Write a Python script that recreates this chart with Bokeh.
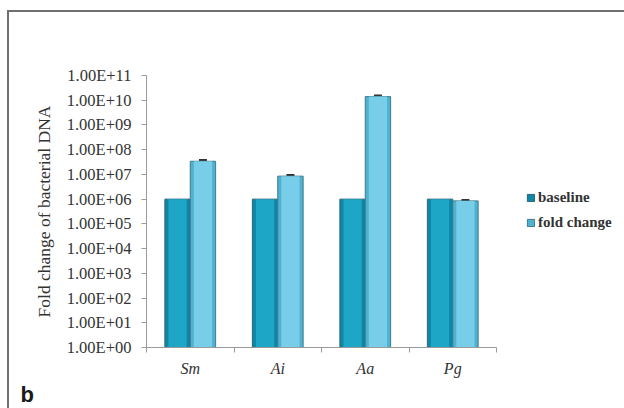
from bokeh.plotting import figure
from bokeh.models import (ColumnDataSource, FixedTicker, CustomJSTickFormatter, Legend,
                          LegendItem, Whisker, TeeHead, Title)
from bokeh.embed import file_html
from bokeh.resources import INLINE

# Bacterial DNA: baseline vs. fold change per species
categories = ["Sm", "Ai", "Aa", "Pg"]
baseline = [1.0e6, 1.0e6, 1.0e6, 1.0e6]
fold_change = [3.4e7, 8.5e6, 1.4e10, 8.5e5]
fold_err = [3.0e6, 8.0e5, 1.3e9, 6.0e4]
series_names = ["baseline", "fold change"]
y_ticks = [10.0 ** k for k in range(0, 12)]

bar_w = 0.29
centers = [i + 0.5 for i in range(len(categories))]
base_src = ColumnDataSource(dict(x=[c - bar_w / 2 for c in centers], top=baseline))
fold_src = ColumnDataSource(dict(x=[c + bar_w / 2 for c in centers], top=fold_change,
                                 upper=[v + e for v, e in zip(fold_change, fold_err)],
                                 lower=fold_change))

p = figure(frame_width=350, frame_height=272, output_backend="svg", toolbar_location=None,
           x_range=(0, 4), y_range=(1, 1e11), y_axis_type="log",
           min_border_left=137, min_border_right=128, min_border_top=63, min_border_bottom=61)
p.styles = {"margin-left": "7px", "margin-top": "10px",
            "border-top": "2px solid #707070", "border-left": "2px solid #707070"}
p.outline_line_color = None
p.grid.visible = False
p.background_fill_color = "white"
p.border_fill_color = "white"

# bars: darker rim with a lighter core for a rounded look
b_out = p.vbar(x="x", top="top", bottom=1, width=bar_w, source=base_src,
               fill_color="#0f86a6", line_color="#2b6477", line_width=1)
b_in = p.vbar(x="x", top="top", bottom=1, width=bar_w * 0.72, source=base_src,
              fill_color="#1ea6c6", line_color=None)
f_out = p.vbar(x="x", top="top", bottom=1, width=bar_w, source=fold_src,
               fill_color="#4fb2d0", line_color="#3f7a8c", line_width=1)
f_in = p.vbar(x="x", top="top", bottom=1, width=bar_w * 0.72, source=fold_src,
              fill_color="#78cde8", line_color=None)

p.add_layout(Whisker(source=fold_src, base="x", upper="upper", lower="lower",
                     line_color="#333333", line_width=1.5,
                     upper_head=TeeHead(size=8, line_color="#333333", line_width=2.5),
                     lower_head=None))

# y axis
ya = p.yaxis[0]
ya.ticker = FixedTicker(ticks=y_ticks, minor_ticks=[])
ya.formatter = CustomJSTickFormatter(code="""
const e = Math.round(Math.log10(tick));
return "1.00E+" + (e < 10 ? "0" + e : "" + e);
""")
ya.axis_line_color = "#9a9a9a"
ya.major_tick_line_color = "#9a9a9a"
ya.major_tick_out = 5
ya.major_tick_in = 0
ya.minor_tick_out = 0
ya.major_label_text_font = "Liberation Serif"
ya.major_label_text_font_size = "16.5px"
ya.major_label_text_color = "#333333"
ya.major_label_standoff = 10
ya.axis_label = "Fold change of bacterial DNA"
ya.axis_label_text_font = "Liberation Serif"
ya.axis_label_text_font_size = "17.5px"
ya.axis_label_text_font_style = "normal"
ya.axis_label_text_color = "#333333"
ya.axis_label_standoff = 10

# x axis: names at centers, ticks at category boundaries
xa = p.xaxis[0]
xa.ticker = FixedTicker(ticks=centers, minor_ticks=[0, 1, 2, 3, 4])
xa.formatter = CustomJSTickFormatter(args=dict(names=categories),
                                     code="return names[Math.floor(tick)] || '';")
xa.axis_line_color = "#9a9a9a"
xa.major_tick_out = 0
xa.major_tick_in = 0
xa.minor_tick_line_color = "#9a9a9a"
xa.minor_tick_out = 5
xa.minor_tick_in = 0
xa.major_label_text_font = "Liberation Serif"
xa.major_label_text_font_style = "italic"
xa.major_label_text_font_size = "16px"
xa.major_label_text_color = "#333333"
xa.major_label_standoff = 7

legend = Legend(items=[LegendItem(label=series_names[0], renderers=[b_out]),
                       LegendItem(label=series_names[1], renderers=[f_out])],
                location=(30, 116), padding=0, margin=0, spacing=8,
                glyph_width=9, glyph_height=9, label_height=17, label_standoff=3,
                label_text_font="Liberation Serif", label_text_font_style="bold",
                label_text_font_size="15px", label_text_color="#333333",
                border_line_color=None, background_fill_alpha=0)
p.add_layout(legend, "right")

# panel letter in the lower-left corner
p.add_layout(Title(text="b", align="left", offset=-126, standoff=0,
                   text_font="Liberation Sans", text_font_style="bold",
                   text_font_size="22px", text_color="#1a1a1a"), "below")

open("out.html", "w").write(file_html(p, INLINE))
